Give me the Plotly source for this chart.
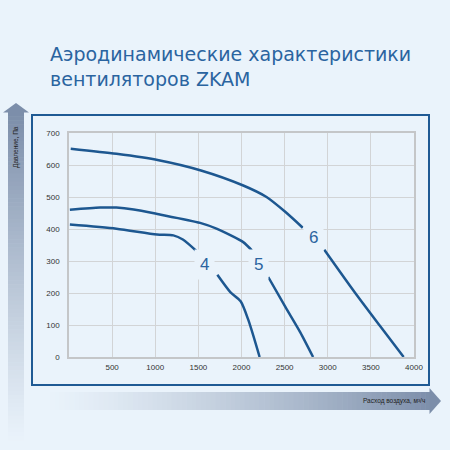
import plotly.graph_objects as go

# Кривые вентиляторов ZKAM (расход, м³/ч -> давление, Па); None = разрыв под подписью
FAN4_FLOW = [10, 550, 1020, 1210, 1320, 1490, None, 1720, 1870, 1990, 2080, 2210]
FAN4_PRESSURE = [414, 401, 383, 380, 367, 328, None, 257, 203, 174, 115, 0]

FAN5_FLOW = [10, 360, 550, 750, 1040, 1520, 1710, 2020, 2120, None, 2310, 2510, 2680, 2830]
FAN5_PRESSURE = [460, 467, 467, 461, 446, 419, 401, 359, 333, None, 250, 156, 78, 0]

FAN6_FLOW = [20, 550, 1040, 1530, 2020, 2290, 2510, 2710, None, 2960, 3310, 3600, 3880]
FAN6_PRESSURE = [651, 635, 615, 583, 536, 500, 453, 404, None, 335, 203, 99, 0]

LABELS = ["4", "5", "6"]
LABEL_FLOW = [1575, 2200, 2830]
LABEL_PRESSURE = [289, 289, 373]

X_TICKS = [500, 1000, 1500, 2000, 2500, 3000, 3500, 4000]
Y_TICKS = [0, 100, 200, 300, 400, 500, 600, 700]

BG = "#eaf3fb"
BG_RGB = (234, 243, 251)
ARROW_RGB = (112, 131, 161)
CURVE = "#1d5790"
TEXT_BLUE = "#2a64a0"
W = H = 450

# область графика в пикселях
PL, PR, PT, PB = 69, 414, 133, 357


def px(v):
    return v / W


def py(v):
    return 1 - v / H


def blend(a):
    c = [round(b * (1 - a) + f * a) for b, f in zip(BG_RGB, ARROW_RGB)]
    return f"rgb({c[0]},{c[1]},{c[2]})"


fig = go.Figure()

for fx, fy in [(FAN4_FLOW, FAN4_PRESSURE), (FAN5_FLOW, FAN5_PRESSURE), (FAN6_FLOW, FAN6_PRESSURE)]:
    fig.add_trace(go.Scatter(
        x=fx, y=fy, mode="lines",
        line=dict(color=CURVE, width=2.5, shape="spline", smoothing=0.7),
        connectgaps=False, hoverinfo="skip", showlegend=False,
    ))

# подписи кривых (фон закрывает сетку)
for t, lx, ly in zip(LABELS, LABEL_FLOW, LABEL_PRESSURE):
    fig.add_annotation(
        x=lx, y=ly, xref="x", yref="y", text=t, showarrow=False,
        font=dict(family="Liberation Sans, Arial", size=17, color=TEXT_BLUE),
        bgcolor=BG, borderpad=5,
    )

shapes = []

# вертикальная стрелка с градиентом
n = 80
top, bottom = 112, 440
for i in range(n):
    y0 = top + (bottom - top) * i / n
    y1 = top + (bottom - top) * (i + 1) / n + 0.6
    a = 0.9 * (1 - i / n) ** 1.1
    shapes.append(dict(type="rect", xref="paper", yref="paper",
                       x0=px(8), x1=px(24), y0=py(y0), y1=py(y1),
                       line=dict(width=0), fillcolor=blend(a), layer="below"))
shapes.append(dict(type="path", xref="paper", yref="paper",
                   path=f"M {px(3)} {py(112.5)} L {px(16)} {py(103)} L {px(29)} {py(112.5)} Z",
                   line=dict(width=0), fillcolor=blend(0.9), layer="below"))

# горизонтальная стрелка с градиентом
left, right = 40, 430
for i in range(n):
    x0 = left + (right - left) * i / n
    x1 = left + (right - left) * (i + 1) / n + 0.6
    a = 0.9 * (i / n) ** 1.3
    shapes.append(dict(type="rect", xref="paper", yref="paper",
                       x0=px(x0), x1=px(x1), y0=py(392), y1=py(410),
                       line=dict(width=0), fillcolor=blend(a), layer="below"))
shapes.append(dict(type="path", xref="paper", yref="paper",
                   path=f"M {px(429.5)} {py(388)} L {px(441)} {py(401)} L {px(429.5)} {py(414)} Z",
                   line=dict(width=0), fillcolor=blend(0.9), layer="below"))

# синяя рамка
shapes.append(dict(type="rect", xref="paper", yref="paper",
                   x0=px(32), x1=px(429), y0=py(115), y1=py(385),
                   line=dict(color="#1f5a94", width=2), fillcolor="rgba(0,0,0,0)"))

fig.add_annotation(
    x=px(48), y=py(41), xref="paper", yref="paper", xanchor="left", yanchor="top", align="left",
    text="Аэродинамические характеристики<br>вентиляторов ZKAM", showarrow=False,
    font=dict(family="DejaVu Sans", size=19, color=TEXT_BLUE),
)
fig.add_annotation(
    x=px(427), y=py(401), xref="paper", yref="paper", xanchor="right", yanchor="middle",
    text="Расход воздуха, м³/ч", showarrow=False,
    font=dict(family="Liberation Sans, Arial", size=6.5, color="#222"),
)
fig.add_annotation(
    x=px(16), y=py(147), xref="paper", yref="paper", xanchor="center", yanchor="middle",
    text="Давление, Па", textangle=-90, showarrow=False,
    font=dict(family="Liberation Sans, Arial", size=6.5, color="#222"),
)

fig.update_layout(
    width=W, height=H,
    margin=dict(l=0, r=0, t=0, b=0),
    paper_bgcolor=BG, plot_bgcolor=BG,
    shapes=shapes,
    showlegend=False,
    xaxis=dict(
        domain=[px(PL), px(PR)], range=[0, 4000],
        tickvals=X_TICKS, ticktext=[str(v) for v in X_TICKS],
        showgrid=True, gridcolor="#d2d4d6", gridwidth=1,
        showline=True, linecolor="#c4c6c8", linewidth=1.5, mirror=True,
        ticks="outside", ticklen=2, tickcolor="rgba(0,0,0,0)",
        tickfont=dict(family="Liberation Sans, Arial", size=8, color="#333"),
        zeroline=False, fixedrange=True, automargin=False,
    ),
    yaxis=dict(
        domain=[py(PB), py(PT)], range=[0, 700],
        tickvals=Y_TICKS,
        showgrid=True, gridcolor="#d2d4d6", gridwidth=1,
        showline=True, linecolor="#c4c6c8", linewidth=1.5, mirror=True,
        ticks="outside", ticklen=6, tickcolor="rgba(0,0,0,0)",
        tickfont=dict(family="Liberation Sans, Arial", size=8, color="#333"),
        zeroline=False, fixedrange=True, automargin=False,
    ),
)

fig.write_html("out.html", config={"displayModeBar": False},
               post_script="document.body.style.margin='0';")
